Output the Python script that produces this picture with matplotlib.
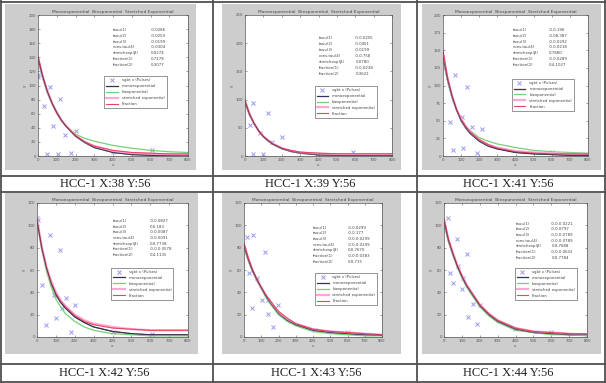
import matplotlib
matplotlib.use("Agg")
import matplotlib.pyplot as plt
from matplotlib.patches import Rectangle
from matplotlib.lines import Line2D

W, H = 606, 383

# ---------------- data ----------------
captions = ["HCC-1 X:38 Y:56", "HCC-1 X:39 Y:56", "HCC-1 X:41 Y:56",
            "HCC-1 X:42 Y:56", "HCC-1 X:43 Y:56", "HCC-1 X:44 Y:56"]
plot_title = "Monoexponential  Biexponential  Stretched Exponential"
legend_labels = ["sgbt x (Pulses)", "monoexponential", "biexponential",
                 "stretched exponential", "Fraction"]
param_names = ["tauu(1)", "tauu(2)", "tauu(3)", "cons.tau(4)",
               "stretchexp(\u03b2)", "fraction(1)", "fraction(2)"]
param_vals = [
    ["-0.0286", "-0.0259", "-0.0199", "-0.0304", "0.0274", "0.7278", "0.3077"],
    ["-0.0.0255", "-0.0451", "-0.0199", "-0.0.758", "0.0780", "-0.0.0238", "0.3622"],
    ["-0.0.196", "-0.08.387", "-0.0.0292", "-0.0.0218", "0.7880", "-0.0.0289", "0.4.1027"],
    ["-0.0.0827", "0.0.183", "-0.0.0087", "-0.0.0091", "0.0.7738", "-0.0.0.0578", "0.4.1135"],
    ["-0.0.0299", "-0.0.177", "-0.0.0.0299", "-0.0.0.0299", "0.0.7670", "-0.0.0.0383", "0.0.715"],
    ["-0.0.0.0221", "-0.0.0797", "-0.0.0.0789", "-0.0.0.0789", "0.0.7688", "-0.0.0.0632", "0.0.7784"],
]
x_max = [800, 800, 800, 800, 800, 800]
y_max = [200, 250, 200, 120, 120, 120]
y_step = [20, 50, 25, 20, 20, 20]

# measured signal points
px1 = [0, 0, 64, 117, 32, 80, 144, 203, 48, 107, 176, 400, 608]
py1 = [115, 112, 98, 81, 71, 43, 30, 35, 3, 3, 4, 6, 8]
px2 = [27, 44, 82, 125, 147, 201, 44, 98, 392, 588]
py2 = [55, 94, 41, 76, 25, 34, 4, 4, 4, 7]
px3 = [66, 132, 39, 105, 160, 215, 55, 110, 188, 600]
py3 = [115, 98, 48, 55, 41, 38, 8, 11, 4, 5]
px4 = [0, 5, 69, 122, 27, 90, 154, 201, 133, 101, 48, 180, 400, 609]
py4 = [107, 105, 91, 78, 47, 38, 35, 29, 26, 17, 11, 4.5, 4.5, 3]
px5 = [17, 52, 122, 29, 75, 104, 139, 197, 46, 139, 168, 412, 603]
py5 = [90, 91, 76, 57, 53, 33, 33, 29, 26, 21, 9, 6, 4.5]
px6 = [22, 73, 129, 34, 78, 106, 50, 101, 162, 201, 134, 185, 397, 599]
py6 = [107, 88, 74, 57, 64, 53, 48, 43, 30, 29, 18, 12, 7, 4.5]

# fitted curves sampled at xc
xc = [0, 25, 50, 75, 100, 125, 150, 200, 250, 300, 400, 500, 600, 700, 800]
mono1 = [138, 112, 91, 75, 62, 51, 42, 28, 19, 12, 5, 2, 1, 0.5, 0.3]
bi1 = [136, 110, 89, 73, 60, 50, 42, 31, 25, 21, 15, 11, 8, 6, 5]
str1 = [140, 113, 92, 75, 62, 51, 43, 29, 20, 14, 7, 4, 3, 2, 2]
frac1 = [142, 114, 92, 75, 61, 50, 42, 29, 20, 14, 8, 5, 4, 3, 3]
mono2 = [95, 73, 57, 44, 34, 27, 21, 13, 8, 5, 2, 1, 1, 1, 1]
bi2 = [94, 72, 56, 44, 34, 27, 21, 13, 9, 6, 3, 2, 2, 2, 2]
str2 = [97, 74, 57, 44, 35, 28, 22, 14, 9, 6, 4, 3, 3, 3, 3]
frac2 = [99, 75, 58, 45, 35, 28, 22, 14, 10, 7, 5, 4, 4, 4, 4]
mono3 = [140, 108, 84, 65, 50, 40, 32, 21, 14, 10, 5, 3, 2, 1, 1]
bi3 = [138, 106, 82, 65, 52, 43, 36, 26, 21, 17, 12, 8, 6, 5, 4]
str3 = [145, 110, 85, 66, 52, 42, 34, 23, 16, 12, 7, 5, 4, 3, 3]
frac3 = [150, 112, 86, 66, 52, 42, 34, 23, 16, 11, 6, 4, 3, 3, 3]
mono4 = [104, 80, 62, 48, 38, 31, 26, 18, 13, 9, 5, 3, 2, 2, 2]
bi4 = [103, 78, 59, 45, 34, 27, 21, 14, 9, 6, 3, 2, 1, 1, 1]
str4 = [106, 81, 63, 50, 40, 33, 28, 20, 15, 12, 9, 7, 6, 6, 6]
frac4 = [105, 80, 62, 49, 39, 32, 27, 19, 14, 11, 8, 7, 6, 6, 6]
mono5 = [81, 69, 59, 51, 44, 37, 31, 21, 15, 11, 6, 4, 3, 2, 1.5]
bi5 = [80, 68, 58, 50, 43, 36, 30, 20, 14, 10, 5, 3, 2, 1, 1]
str5 = [83, 70, 60, 51, 44, 38, 32, 22, 16, 12, 7, 5, 4, 3, 2]
frac5 = [84, 71, 60, 52, 45, 38, 33, 23, 17, 12, 7, 5, 4, 3, 2]
mono6 = [103, 86, 74, 63, 54, 46, 40, 28, 20, 14, 7, 4, 3, 2, 2]
bi6 = [102, 85, 73, 62, 53, 45, 39, 27, 19, 13, 6, 4, 2, 2, 1]
str6 = [105, 87, 75, 64, 55, 47, 41, 29, 21, 15, 8, 5, 4, 3, 2]
frac6 = [106, 88, 75, 64, 55, 47, 41, 29, 21, 15, 8, 5, 4, 3, 3]

points = [(px1, py1), (px2, py2), (px3, py3), (px4, py4), (px5, py5), (px6, py6)]
curves = [(mono1, bi1, str1, frac1), (mono2, bi2, str2, frac2),
          (mono3, bi3, str3, frac3), (mono4, bi4, str4, frac4),
          (mono5, bi5, str5, frac5), (mono6, bi6, str6, frac6)]

# ---------------- layout (pixels) ----------------
panels = [(5, 4, 196, 170), (222, 4, 401, 170), (422, 4, 601, 170),
          (5, 193, 198, 354), (222, 193, 401, 354), (422, 193, 601, 354)]
axes_px = [(38, 15, 188, 156), (245, 15, 392, 156), (443, 15, 588, 156),
           (37, 203, 188, 337), (244, 203, 382, 337), (444, 203, 587, 337)]
legend_pos = [(0.43, 0.58), (0.46, 0.51), (0.46, 0.56),
              (0.48, 0.53), (0.50, 0.49), (0.48, 0.53)]
text_pos = [(0.50, 0.91), (0.50, 0.85), (0.48, 0.91),
            (0.50, 0.88), (0.50, 0.83), (0.50, 0.86)]
caption_xy = [(105, 184), (310, 184), (508, 184),
              (104, 373), (316, 373), (508, 373)]

fig = plt.figure(figsize=(W / 100, H / 100), dpi=100)
fig.patch.set_facecolor("white")


def fr(x0, y0, x1, y1):
    return [x0 / W, 1 - y1 / H, (x1 - x0) / W, (y1 - y0) / H]


# table lines
line_col = "#505050"
for y in [1.5, 176, 192, 364, 382]:
    fig.add_artist(Line2D([0, 1], [1 - y / H, 1 - y / H], transform=fig.transFigure,
                          color=line_col, lw=1.3))
for x in [1, 213, 417, 605]:
    fig.add_artist(Line2D([x / W, x / W], [0, 1], transform=fig.transFigure,
                          color=line_col, lw=1.3))

col_mono = "#34344e"
col_bi = "#77d077"
col_str = "#ffa6d2"
col_frac = "#ea4460"

for i in range(6):
    x0, y0, x1, y1 = panels[i]
    fig.add_artist(Rectangle((x0 / W, 1 - y1 / H), (x1 - x0) / W, (y1 - y0) / H,
                             transform=fig.transFigure, facecolor="#cdcdcd",
                             edgecolor="none", zorder=0))
    ax = fig.add_axes(fr(*axes_px[i]))
    ax.set_facecolor("white")
    mono, bi, st, frac = curves[i]
    pxs, pys = points[i]
    h0, = ax.plot(pxs, pys, "x", color="#9a9af0", ms=2.6, mew=0.7)
    h1, = ax.plot(xc, mono, color=col_mono, lw=0.9)
    h2, = ax.plot(xc, bi, color=col_bi, lw=0.9)
    h3, = ax.plot(xc, st, color=col_str, lw=1.6)
    h4, = ax.plot(xc, frac, color=col_frac, lw=0.8)
    ax.plot(xc, mono, color=col_mono, lw=0.7, alpha=0.7)
    ax.set_xlim(0, x_max[i])
    ax.set_ylim(0, y_max[i])
    ax.set_xticks(range(0, x_max[i] + 1, 100))
    ax.set_yticks(range(0, y_max[i] + 1, y_step[i]))
    ax.tick_params(direction="in", length=1.5, width=0.4, labelsize=2.8,
                   pad=1.5, top=True, right=True, colors="#555555")
    for s in ax.spines.values():
        s.set_linewidth(0.5)
        s.set_color("#555555")
    ax.set_title(plot_title, fontsize=3.2, pad=1.5, color="#444444")
    ax.set_xlabel("x", fontsize=3, labelpad=0.5, color="#555555")
    ax.set_ylabel("y", fontsize=3, labelpad=1, color="#555555")
    tx, ty = text_pos[i]
    for k, (nm, vl) in enumerate(zip(param_names, param_vals[i])):
        ax.text(tx, ty - k * 0.042, nm, transform=ax.transAxes, fontsize=2.8,
                va="top", ha="left", color="#444444")
        ax.text(tx + 0.25, ty - k * 0.042, vl, transform=ax.transAxes,
                fontsize=2.8, va="top", ha="left", color="#444444")
    leg = ax.legend([h0, h1, h2, h3, h4], legend_labels, loc="upper left",
                    bbox_to_anchor=legend_pos[i], fontsize=2.8, frameon=True,
                    fancybox=False, edgecolor="#444444", framealpha=1,
                    handlelength=3, borderpad=0.5, labelspacing=0.5,
                    handletextpad=1.0)
    for t in leg.get_texts():
        t.set_color("#444444")
    leg.get_frame().set_linewidth(0.4)
    cx, cy = caption_xy[i]
    fig.text(cx / W, 1 - cy / H, captions[i], ha="center", va="center",
             fontsize=9, family="Liberation Serif", color="#222222")

fig.savefig("out.png", dpi=100, facecolor="white")
